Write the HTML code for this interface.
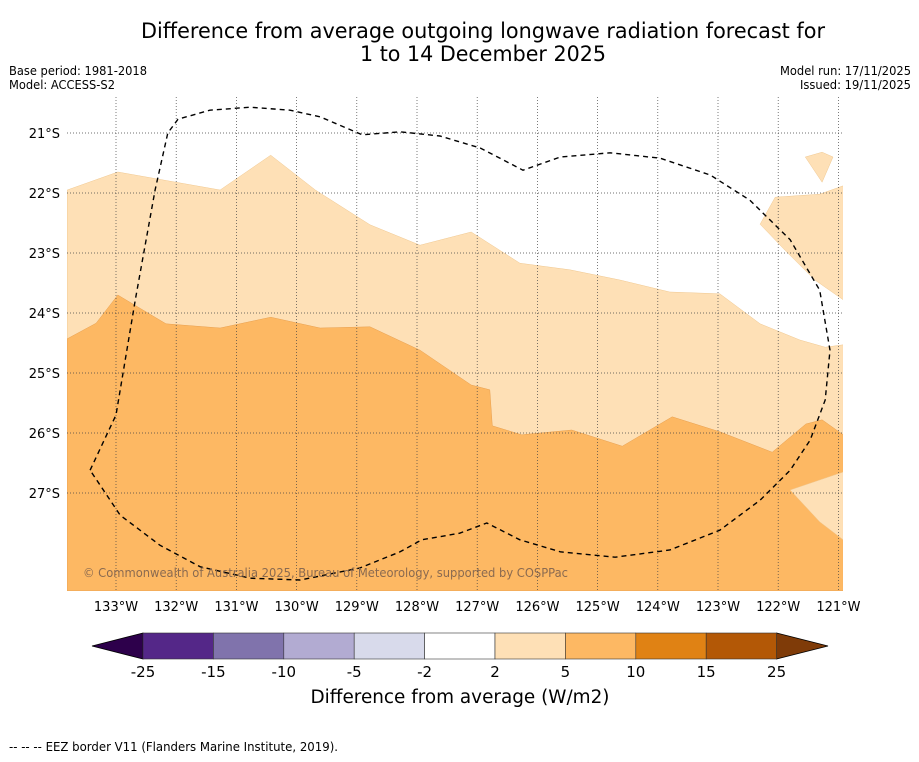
<!DOCTYPE html>
<html><head><meta charset="utf-8"><style>
body{margin:0;background:#fff;font-family:"DejaVu Sans","Liberation Sans",sans-serif;}
svg text{font-family:"DejaVu Sans","Liberation Sans",sans-serif;}
</style></head><body>
<svg id="c" width="919" height="758" xmlns="http://www.w3.org/2000/svg">
<rect width="919" height="758" fill="#fff"/>
<text x="483" y="38" font-size="21" text-anchor="middle" textLength="684" lengthAdjust="spacingAndGlyphs">Difference from average outgoing longwave radiation forecast for</text>
<text x="483" y="61" font-size="21" text-anchor="middle" textLength="246" lengthAdjust="spacingAndGlyphs">1 to 14 December 2025</text>
<text x="9" y="75" font-size="12" textLength="138" lengthAdjust="spacingAndGlyphs">Base period: 1981-2018</text>
<text x="9" y="89" font-size="12" textLength="106" lengthAdjust="spacingAndGlyphs">Model: ACCESS-S2</text>
<text x="911" y="75" font-size="12" text-anchor="end" textLength="131" lengthAdjust="spacingAndGlyphs">Model run: 17/11/2025</text>
<text x="911" y="89" font-size="12" text-anchor="end" textLength="111" lengthAdjust="spacingAndGlyphs">Issued: 19/11/2025</text>
<g id="map"></g>
<g id="cb"></g>
<text x="460" y="703" font-size="18.5" text-anchor="middle" textLength="299" lengthAdjust="spacingAndGlyphs">Difference from average (W/m2)</text>
<text x="9" y="751" font-size="12" textLength="329" lengthAdjust="spacingAndGlyphs">--  --  -- EEZ border V11 (Flanders Marine Institute, 2019).</text>
</svg>
<script>
const lonTicks=[-133,-132,-131,-130,-129,-128,-127,-126,-125,-124,-123,-122,-121];
const latTicks=[-21,-22,-23,-24,-25,-26,-27];
const lightLon=[-133.81,-132.97,-131.27,-130.43,-129.69,-128.78,-127.95,-127.10,-126.29,-125.46,-124.63,-123.80,-122.97,-122.30,-121.64,-121.22,-120.92,-120.92,-133.81];
const lightLat=[-21.95,-21.65,-21.95,-21.37,-21.95,-22.53,-22.87,-22.65,-23.17,-23.28,-23.45,-23.65,-23.68,-24.18,-24.45,-24.57,-24.53,-28.63,-28.63];
const darkLon=[-133.81,-133.33,-132.97,-132.17,-131.27,-130.43,-129.61,-128.78,-127.95,-127.10,-126.79,-126.75,-126.26,-125.43,-124.59,-123.76,-122.97,-122.10,-121.54,-121.27,-120.92,-120.92,-133.81];
const darkLat=[-24.43,-24.17,-23.70,-24.18,-24.25,-24.07,-24.25,-24.23,-24.62,-25.2,-25.28,-25.88,-26.03,-25.95,-26.22,-25.73,-25.98,-26.32,-25.85,-25.78,-26.03,-28.63,-28.63];
const lr1Lon=[-121.8,-120.92,-120.92,-121.31];
const lr1Lat=[-26.95,-26.65,-27.78,-27.48];
const trLon=[-122.3,-122.05,-121.31,-120.92,-120.92,-121.39,-121.89];
const trLat=[-22.52,-22.07,-22.02,-21.88,-23.78,-23.45,-22.95];
const smLon=[-121.55,-121.27,-121.09,-121.27];
const smLat=[-21.4,-21.32,-21.4,-21.82];
const eezLon=[-133.43,-133,-132.68,-132.35,-132.14,-131.97,-131.44,-130.77,-130.11,-129.61,-128.91,-128.28,-127.62,-126.95,-126.24,-125.62,-124.79,-123.96,-123.13,-122.47,-121.8,-121.31,-121.14,-121.22,-121.47,-121.8,-122.3,-122.97,-123.8,-124.71,-125.62,-126.29,-126.84,-127.29,-127.92,-128.28,-128.95,-129.94,-130.77,-131.6,-132.27,-132.93,-133.43];
const eezLat=[-26.62,-25.7,-23.78,-21.95,-21,-20.77,-20.62,-20.57,-20.62,-20.73,-21.03,-20.98,-21.05,-21.25,-21.62,-21.4,-21.33,-21.42,-21.7,-22.12,-22.78,-23.62,-24.62,-25.45,-26.12,-26.62,-27.12,-27.62,-27.95,-28.07,-27.98,-27.78,-27.5,-27.67,-27.78,-27.98,-28.25,-28.45,-28.42,-28.23,-27.87,-27.37,-26.62];
const cbBounds=[-25,-15,-10,-5,-2,2,5,10,15,25];
const cbColors=['#542788','#8073ac','#b2abd2','#d8daeb','#ffffff','#fee0b6','#fdb863','#e08214','#b35806'];
const cbTickLabels=['-25','-15','-10','-5','-2','2','5','10','15','25'];
const NS='http://www.w3.org/2000/svg';
const X0=67,X1=843,Y0=97,Y1=591;
const xs=lon=>116+(lon+133)*60.2;
const ys=lat=>133-(lat+21)*60;
function mk(t,a,p){const e=document.createElementNS(NS,t);for(const k in a)e.setAttribute(k,a[k]);p.appendChild(e);return e;}
function pts(lo,la){return lo.map((v,i)=>xs(v).toFixed(1)+','+ys(la[i]).toFixed(1)).join(' ');}
const map=document.getElementById('map');
const clip=mk('clipPath',{id:'mc'},map);mk('rect',{x:X0,y:Y0,width:X1-X0,height:Y1-Y0},clip);
const g=mk('g',{'clip-path':'url(#mc)'},map);
let p;
p=mk('polygon',{points:pts(lightLon,lightLat),fill:'#fee0b6',stroke:'#f0c890','stroke-width':0.5},g);


p=mk('polygon',{points:pts(darkLon,darkLat),fill:'#fdb863',stroke:'#e8a050','stroke-width':0.5},g);


[[lr1Lon,lr1Lat,'patch-lower-right'],[trLon,trLat,'patch-upper-right'],[smLon,smLat,'patch-small']].forEach(a=>{
 p=mk('polygon',{points:pts(a[0],a[1]),fill:'#fee0b6',stroke:'#f0c890','stroke-width':0.5},g);
 
 
});
lonTicks.forEach(l=>{
 const x=xs(l);
 const ln=mk('line',{x1:x,x2:x,y1:Y0,y2:Y1,stroke:'#444','stroke-width':0.7,'stroke-dasharray':'1,2'},g);
 
 
 const t=mk('text',{x:x,y:611,'font-size':13,'text-anchor':'middle'},map);t.textContent=(-l)+'°W';
 
 
});
latTicks.forEach(l=>{
 const y=ys(l);
 const ln=mk('line',{x1:X0,x2:X1,y1:y,y2:y,stroke:'#444','stroke-width':0.7,'stroke-dasharray':'1,2'},g);
 
 
 const t=mk('text',{x:60,y:y+5,'font-size':13,'text-anchor':'end'},map);t.textContent=(-l)+'°S';
 
 
});
p=mk('polyline',{points:pts(eezLon,eezLat),fill:'none',stroke:'#000','stroke-width':1.4,'stroke-dasharray':'5,4'},g);


const cr=mk('text',{x:83,y:577,'font-size':12,fill:'#8a6a50',textLength:485,lengthAdjust:'spacingAndGlyphs'},map);cr.textContent='© Commonwealth of Australia 2025, Bureau of Meteorology, supported by COSPPac';


const cb=document.getElementById('cb');
const CB0=143,CBW=70.4,CY=633,CH=26;
p=mk('polygon',{points:`92,646 ${CB0},${CY} ${CB0},${CY+CH}`,fill:'#2d004b',stroke:'#000','stroke-width':0.8},cb);


const xe=CB0+CBW*cbColors.length;
p=mk('polygon',{points:`${xe},${CY} 828,646 ${xe},${CY+CH}`,fill:'#7f3b08',stroke:'#000','stroke-width':0.8},cb);


cbColors.forEach((c,i)=>{
 const r=mk('rect',{x:CB0+i*CBW,y:CY,width:CBW,height:CH,fill:c,stroke:'#333','stroke-width':0.6},cb);
 
 
});
cbBounds.forEach((b,i)=>{
 const t=mk('text',{x:CB0+i*CBW,y:677,'font-size':15,'text-anchor':'middle'},cb);t.textContent=cbTickLabels[i];
 
 
});
</script>
</body></html>
